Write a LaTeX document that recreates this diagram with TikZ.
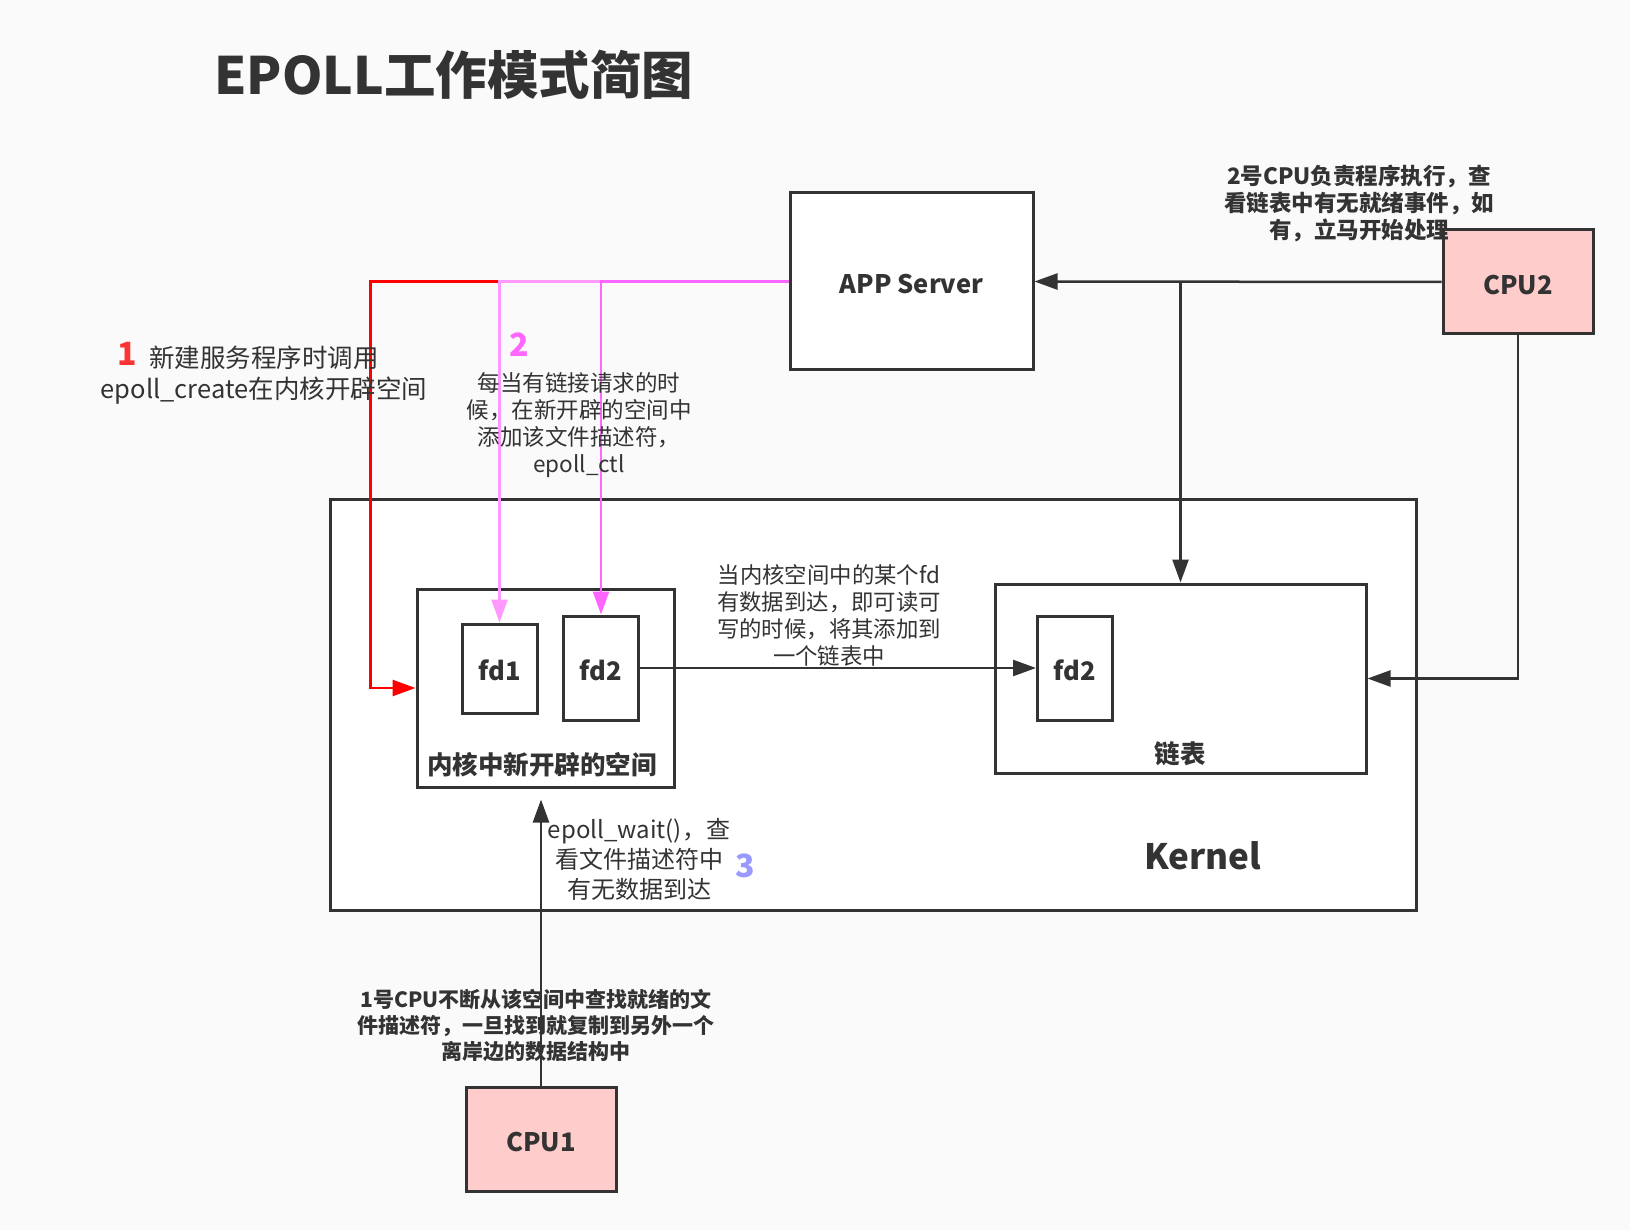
\documentclass[tikz,border=0pt]{standalone}
\usepackage{fontspec}
\setmainfont{Noto Sans CJK SC}
\usetikzlibrary{arrows.meta}
\definecolor{ink}{HTML}{333333}
\definecolor{paper}{HTML}{FAFAFA}
\definecolor{cpupink}{HTML}{FFCCCC}
\definecolor{lightpink}{HTML}{FF99FF}
\definecolor{deeppink}{HTML}{FF66FF}
\definecolor{numred}{HTML}{FF3333}
\definecolor{numblue}{HTML}{9999FF}
\newcommand{\fsz}[2]{\fontsize{#1}{#2}\selectfont}
\begin{document}
\begin{tikzpicture}[
    x=1pt, y=-1pt,
    block/.style={rectangle, draw=ink, line width=3pt, fill=white, text=ink, text height=24.5pt, text depth=0pt, font=\bfseries\fsz{25.5}{30}},
    cpu/.style={block, fill=cpupink, minimum width=150pt, minimum height=104pt},
    fdbox/.style={block, minimum width=75pt, minimum height=104pt},
    note/.style={text=ink, align=center, inner sep=0pt},
    num/.style={inner sep=0pt, font=\bfseries\fsz{32}{36}},
    tip/.style={-{Triangle[length=23pt,width=16pt]}},
    arrow/.style={tip, draw=ink, line width=2.5pt},
    feed/.style={tip, line width=2.5pt}
]
    \fill[paper] (0,0) rectangle (1630,1230);
    \useasboundingbox (0,0) rectangle (1630,1230);

    \node [note, font=\bfseries\fsz{51.5}{58}] (title) at (454,75) {EPOLL工作模式简图};

    \node [block, minimum width=243pt, minimum height=177pt] (app) at (911.5,281.5) {APP Server};
    \node [cpu] (cpu2) at (1518,282) {CPU2};
    \node [block, minimum width=1086pt, minimum height=411pt] (kernel) at (873,704.5) {};
    \node [note, font=\bfseries\fsz{35}{40}] (kernellabel) at (1203,856) {Kernel};
    \node [block, minimum width=257pt, minimum height=198pt] (space) at (545.5,688) {};
    \node [note, font=\bfseries\fsz{25.5}{30}] (spacelabel) at (542,765) {内核中新开辟的空间};
    \node [fdbox, minimum height=89pt] (fd1) at (499.5,668.5) {fd1};
    \node [fdbox] (fd2a) at (601,668) {fd2};
    \node [block, minimum width=371pt, minimum height=189pt] (list) at (1180.5,678.5) {};
    \node [note, font=\bfseries\fsz{25.5}{30}] (listlabel) at (1180,754) {链表};
    \node [fdbox] (fd2b) at (1075,668) {fd2};
    \node [cpu] (cpu1) at (541,1139) {CPU1};

    \draw [feed, red] (app.west) -| ([xshift=-45pt]space.west) -- (space.west);
    \draw [feed, lightpink] (app.west) -| (fd1.north);
    \draw [feed, deeppink] (app.west) -| (fd2a.north);
    \draw [arrow] (cpu2.west) -- (app.east);
    \draw [arrow] (list.north |- app.east) -- (list.north);
    \draw [arrow] (cpu2.south) |- (list.east);
    \draw [arrow] (fd2a.east) -- (fd2b.west);
    \draw [arrow, shorten >=11pt] (cpu1.north) -- (cpu1.north |- space.south);

    \node [num, text=numred] (n1) at (127,354) {1};
    \node [note, font=\fsz{25.5}{31}] (create) at (264,375) {新建服务程序时调用\\epoll\_create在内核开辟空间};
    \node [num, text=deeppink] (n2) at (519,345) {2};
    \node [note, font=\fsz{22.5}{27}] (ctl) at (579,425) {每当有链接请求的时\\候，在新开辟的空间中\\添加该文件描述符，\\epoll\_ctl};
    \node [note, font=\fsz{22.4}{27}] (ready) at (829,615) {当内核空间中的某个fd\\有数据到达，即可读可\\写的时候，将其添加到\\一个链表中};
    \node [note, font=\fsz{24}{30}] (wait) at (639,859) {epoll\_wait()，查\\看文件描述符中\\有无数据到达};
    \node [num, text=numblue] (n3) at (745,866) {3};
    \node [note, font=\bfseries\fsz{21}{26}] (cpu1note) at (536,1026) {1号CPU不断从该空间中查找就绪的文\\件描述符，一旦找到就复制到另外一个\\离岸边的数据结构中};
    \node [note, font=\bfseries\fsz{22.5}{27}] (cpu2note) at (1359,204) {2号CPU负责程序执行，查\\看链表中有无就绪事件，如\\有，立马开始处理};
\end{tikzpicture}
\end{document}
